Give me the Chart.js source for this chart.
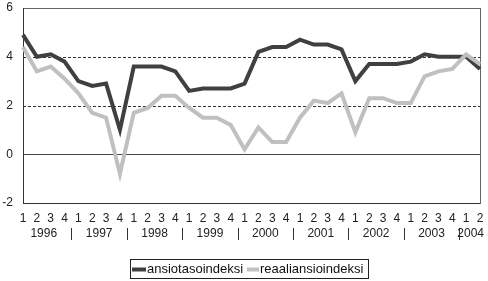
<!DOCTYPE html>
<html>
<head>
<meta charset="utf-8">
<script src="https://cdn.jsdelivr.net/npm/chart.js@4/dist/chart.umd.min.js"></script>
<style>
html,body{margin:0;padding:0;background:#fff;}
#wrap{position:relative;width:488px;height:281px;}
</style>
</head>
<body>
<div id="wrap"><canvas id="c" width="488" height="281"></canvas></div>
<script>
const quarters = ['1','2','3','4','1','2','3','4','1','2','3','4','1','2','3','4','1','2','3','4','1','2','3','4','1','2','3','4','1','2','3','4','1','2'];
const years = ['1996','1997','1998','1999','2000','2001','2002','2003','2004'];
const ansiotasoindeksi = [4.9,4.0,4.1,3.8,3.0,2.8,2.9,1.0,3.6,3.6,3.6,3.4,2.6,2.7,2.7,2.7,2.9,4.2,4.4,4.4,4.7,4.5,4.5,4.3,3.0,3.7,3.7,3.7,3.8,4.1,4.0,4.0,4.0,3.5];
const reaaliansioindeksi = [4.4,3.4,3.6,3.1,2.5,1.7,1.5,-0.8,1.7,1.9,2.4,2.4,1.9,1.5,1.5,1.2,0.2,1.1,0.5,0.5,1.5,2.2,2.1,2.5,0.9,2.3,2.3,2.1,2.1,3.2,3.4,3.5,4.1,3.7];
const yMin = -2, yMax = 6, yStep = 2;
const seriesNames = ['ansiotasoindeksi','reaaliansioindeksi'];
const seriesColors = ['#404040','#c0c0c0'];

const FONT = '"Liberation Sans", Arial, sans-serif';

const decor = {
  id: 'decor',
  beforeDatasetsDraw(chart) {
    const ctx = chart.ctx, a = chart.chartArea, y = chart.scales.y;
    ctx.save();
    ctx.strokeStyle = '#333';
    ctx.lineWidth = 1;
    y.ticks.forEach(t => {
      if (t.value === yMin || t.value === yMax) return;
      const py = Math.round(y.getPixelForValue(t.value)) + 0.5;
      ctx.beginPath();
      if (t.value === 0) { ctx.setLineDash([]); ctx.strokeStyle = '#444'; }
      else { ctx.setLineDash([3,2]); ctx.strokeStyle = '#333'; }
      ctx.moveTo(a.left, py); ctx.lineTo(a.right, py); ctx.stroke();
    });
    ctx.setLineDash([]);
    ctx.strokeStyle = '#666';
    ctx.strokeRect(Math.round(a.left)+0.5, Math.round(a.top)+0.5, Math.round(a.right-a.left), Math.round(a.bottom-a.top));
    ctx.strokeStyle = '#333';
    ctx.beginPath();
    ctx.moveTo(Math.round(a.left)+0.5, a.top); ctx.lineTo(Math.round(a.left)+0.5, a.bottom+0.5);
    ctx.moveTo(a.left, Math.round(a.bottom)+0.5); ctx.lineTo(a.right, Math.round(a.bottom)+0.5);
    ctx.stroke();
    ctx.restore();
  },
  afterDraw(chart) {
    const ctx = chart.ctx, x = chart.scales.x;
    const n = quarters.length;
    ctx.save();
    ctx.font = '12px ' + FONT;
    ctx.fillStyle = '#222';
    ctx.textAlign = 'center';
    ctx.textBaseline = 'middle';
    ctx.strokeStyle = '#333';
    ctx.lineWidth = 1;
    years.forEach((yr, i) => {
      const f = i * 4, l = Math.min(i * 4 + 3, n - 1);
      let cx = (x.getPixelForValue(f) + x.getPixelForValue(l)) / 2;
      const w = ctx.measureText(yr).width;
      if (cx + w / 2 > 484) cx = 484 - w / 2;
      ctx.fillText(yr, cx, 234);
      if (l < n - 1) {
        const sx = Math.round((x.getPixelForValue(l) + x.getPixelForValue(l + 1)) / 2) + 0.5;
        ctx.beginPath(); ctx.moveTo(sx, 228); ctx.lineTo(sx, 240); ctx.stroke();
      }
    });
    ctx.strokeStyle = '#222';
    ctx.strokeRect(130.5, 259.5, 238, 19);
    ctx.font = '13px ' + FONT;
    ctx.textAlign = 'left';
    ctx.fillStyle = '#111';
    const items = [[132, 146, 147], [247, 259, 260]];
    items.forEach((it, i) => {
      ctx.strokeStyle = seriesColors[i];
      ctx.lineWidth = 4;
      ctx.beginPath(); ctx.moveTo(it[0], 269.5); ctx.lineTo(it[1], 269.5); ctx.stroke();
      ctx.fillText(seriesNames[i], it[2], 269.5);
    });
    ctx.restore();
  }
};

new Chart(document.getElementById('c'), {
  type: 'line',
  data: {
    labels: quarters,
    datasets: [
      { label: seriesNames[0], data: ansiotasoindeksi, borderColor: seriesColors[0], borderWidth: 4, pointRadius: 0, tension: 0, order: 1 },
      { label: seriesNames[1], data: reaaliansioindeksi, borderColor: seriesColors[1], borderWidth: 4, pointRadius: 0, tension: 0, order: 0 }
    ]
  },
  options: {
    responsive: false,
    animation: false,
    events: [],
    layout: { padding: { left: 0, right: 8, top: 8, bottom: 0 } },
    plugins: { legend: { display: false }, tooltip: { enabled: false } },
    scales: {
      x: {
        offset: false,
        grid: { display: false, drawTicks: false },
        border: { display: false },
        ticks: { autoSkip: false, maxRotation: 0, padding: 8, color: '#222', font: { family: FONT, size: 12 } },
        afterFit(s) { s.height = 78; s.paddingLeft = 0; s.paddingRight = 0; }
      },
      y: {
        min: yMin, max: yMax,
        grid: { display: false, drawTicks: false },
        border: { display: false },
        ticks: { stepSize: yStep, padding: 10, color: '#222', font: { family: FONT, size: 12 } },
        afterFit(s) { s.width = 23; s.paddingTop = 0; s.paddingBottom = 0; }
      }
    }
  },
  plugins: [decor]
});
</script>
</body>
</html>
